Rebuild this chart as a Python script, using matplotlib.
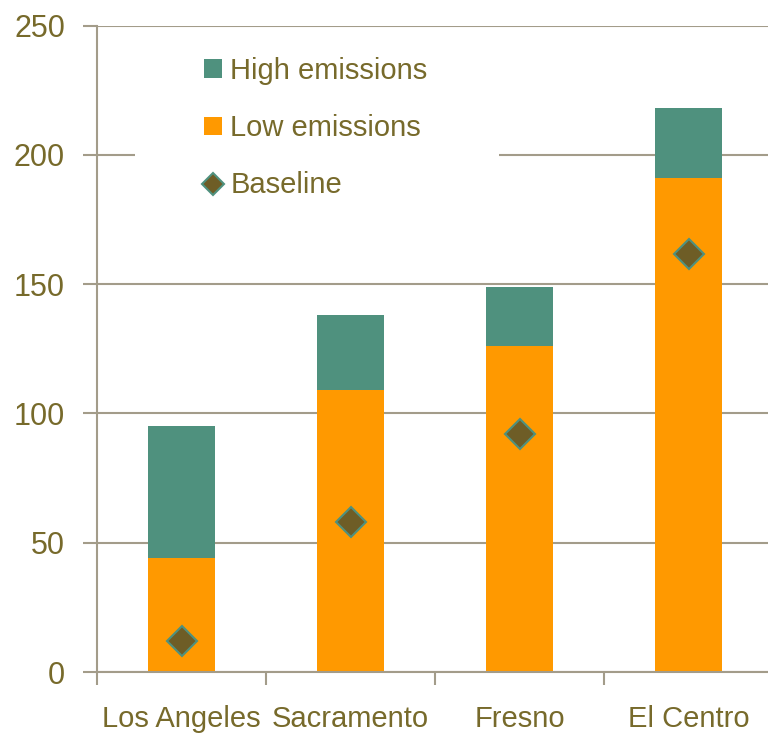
import matplotlib
matplotlib.use("Agg")
import matplotlib.pyplot as plt
from matplotlib.lines import Line2D
from matplotlib.patches import Patch, Rectangle

cities = ["Los Angeles", "Sacramento", "Fresno", "El Centro"]
low_emissions = [44, 109, 126, 191]
high_emissions = [95, 138, 149, 218]
baseline = [12, 58, 92, 161.5]
y_ticks = [0, 50, 100, 150, 200, 250]

TEAL = "#4F917E"
ORANGE = "#FF9900"
DIAMOND = "#6E5D26"
TEXT = "#776A2B"
GRID = "#A39C8A"

plt.rcParams["font.family"] = ["Liberation Sans", "DejaVu Sans"]

W, H = 768, 733
fig = plt.figure(figsize=(W / 100, H / 100), dpi=100)
ax_left, ax_bottom, ax_top = 97, 672, 25.5
ax = fig.add_axes([ax_left / W, 1 - ax_bottom / H, 1 - ax_left / W, (ax_bottom - ax_top) / H])

x = list(range(len(cities)))
extra = [h - l for h, l in zip(high_emissions, low_emissions)]
ax.bar(x, low_emissions, width=0.4, color=ORANGE, zorder=2)
ax.bar(x, extra, bottom=low_emissions, width=0.4, color=TEAL, zorder=2)
ax.plot(x, baseline, linestyle="none", marker="D", markersize=15,
        markerfacecolor=DIAMOND, markeredgecolor=TEAL, markeredgewidth=1.5, zorder=3)

ax.set_yticks(y_ticks)
ax.set_yticklabels([str(v) for v in y_ticks])
ax.yaxis.grid(True, color=GRID, linewidth=1.5, zorder=0)
ax.set_axisbelow(True)

# category boundary ticks below the axis, labels centred on each bar
ax.set_xticks([i + 0.5 for i in range(-1, 4)])
ax.set_xticklabels([])
ax.set_xticks(x, minor=True)
ax.set_xticklabels(cities, minor=True)
ax.tick_params(axis="x", which="major", length=9, width=1.5, color=GRID, direction="out")
ax.tick_params(axis="x", which="minor", length=0, pad=24, labelsize=21, labelcolor=TEXT)
ax.tick_params(axis="y", length=10, width=1.5, color=GRID, direction="out",
               labelsize=22, labelcolor=TEXT, pad=13)

ax.set_xlim(-0.5, 3.47)
ax.set_ylim(0, 250)

for side in ["top", "right"]:
    ax.spines[side].set_visible(False)
for side in ["left", "bottom"]:
    ax.spines[side].set_color(GRID)
    ax.spines[side].set_linewidth(1.5)

def px_to_axes(px, py):
    ax_w = W - ax_left
    ax_h = ax_bottom - ax_top
    return (px - ax_left) / ax_w, (ax_bottom - py) / ax_h

# white panel behind the legend
bx0, by0 = px_to_axes(135, 215)
bx1, by1 = px_to_axes(499, 40)
ax.add_patch(Rectangle((bx0, by0), bx1 - bx0, by1 - by0, transform=ax.transAxes,
                       facecolor="white", edgecolor="none", zorder=1))

handles = [
    Patch(facecolor=TEAL, edgecolor="none"),
    Patch(facecolor=ORANGE, edgecolor="none"),
    Line2D([], [], linestyle="none", marker="D", markersize=11,
           markerfacecolor=DIAMOND, markeredgecolor=TEAL, markeredgewidth=1.5),
]
lx, ly = px_to_axes(204, 57)
leg = ax.legend(handles, ["High emissions", "Low emissions", "Baseline"],
                loc="upper left", bbox_to_anchor=(lx, ly), frameon=False,
                fontsize=21, labelspacing=1.0, handlelength=0.6, handleheight=0.6,
                handletextpad=0.3, borderpad=0, borderaxespad=0)
for t in leg.get_texts():
    t.set_color(TEXT)
leg.set_zorder(4)

fig.savefig("out.png", dpi=100)
